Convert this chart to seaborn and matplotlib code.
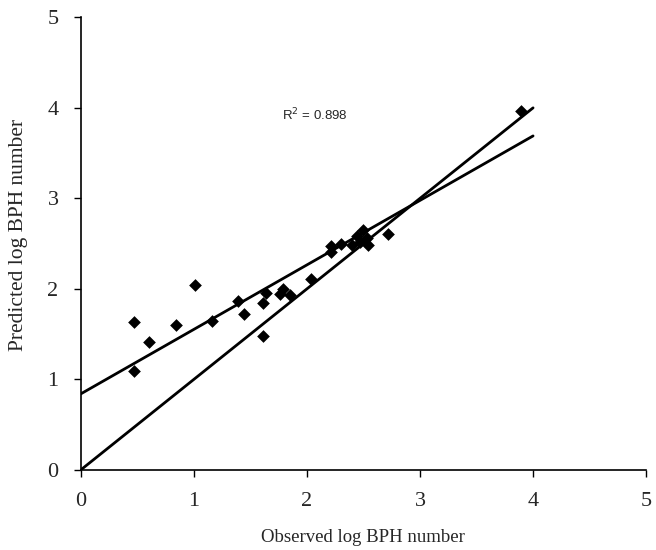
import pandas as pd
import matplotlib.pyplot as plt
import seaborn as sns

# Observed vs predicted log BPH numbers
observed = [0.47, 0.47, 0.60, 0.84, 1.01, 1.16, 1.39, 1.44, 1.61, 1.61, 1.64,
            1.76, 1.79, 1.85, 2.04, 2.21, 2.21, 2.30, 2.40, 2.44, 2.47, 2.50,
            2.53, 2.54, 2.72, 3.89]
predicted = [1.63, 1.09, 1.41, 1.60, 2.04, 1.65, 1.87, 1.72, 1.84, 1.48, 1.95,
             1.94, 2.00, 1.93, 2.11, 2.47, 2.41, 2.50, 2.49, 2.58, 2.52, 2.65,
             2.56, 2.49, 2.61, 3.97]

# Regression line and 1:1 line end points
line_x = [0, 4]
fit_y = [0.84, 3.69]
one_to_one_y = [0, 4]

r2_label = 'R$^2$ = 0.898'

data = pd.DataFrame({'observed': observed, 'predicted': predicted})

sns.set_style('ticks')
plt.rcParams['font.family'] = ['Liberation Serif', 'DejaVu Serif']

fig = plt.figure(figsize=(6.56, 5.5), dpi=100)
ax = fig.add_axes([0.123, 0.1455, 0.862, 0.823])

sns.lineplot(x=line_x, y=fit_y, color='black', linewidth=2.0, ax=ax)
sns.lineplot(x=line_x, y=one_to_one_y, color='black', linewidth=2.0, ax=ax)
sns.scatterplot(data=data, x='observed', y='predicted', marker='D', s=42,
                color='black', edgecolor='black', linewidth=0, ax=ax, zorder=3)

ax.text(1.78, 3.92, r2_label, ha='left', va='center', fontsize=9.5,
        family=['Liberation Sans', 'DejaVu Sans'])

ax.set_xlim(0, 5)
ax.set_ylim(0, 5)
ax.set_xticks(range(6))
ax.set_yticks(range(6))
ax.tick_params(axis='both', direction='out', length=5, width=1, color='black',
               labelsize=16, pad=11)
ax.set_xlabel('Observed log BPH number', fontsize=13.5, labelpad=13)
ax.set_ylabel('Predicted log BPH number', fontsize=15.5)
ax.yaxis.set_label_coords(-0.094, 0.52)
sns.despine(ax=ax)
for side in ['left', 'bottom']:
    ax.spines[side].set_color('black')
    ax.spines[side].set_linewidth(1.2)
ax.patch.set_alpha(0)

fig.savefig('out.png', dpi=100)
